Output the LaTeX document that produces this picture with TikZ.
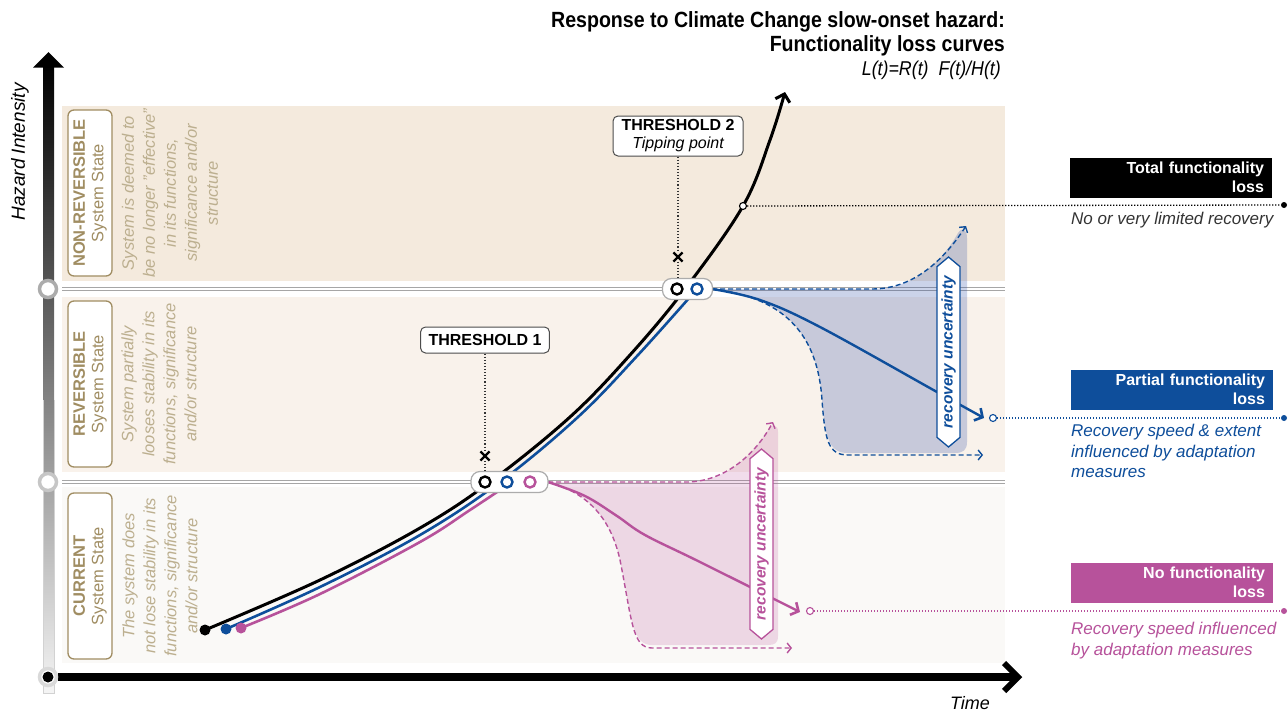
\documentclass[tikz,border=0pt]{standalone}
\usepackage{fontspec}
\setmainfont{Liberation Sans}
\setsansfont{Liberation Sans}
\newfontfamily\titlefont[FakeStretch=0.89]{Liberation Sans}
\usetikzlibrary{arrows.meta,shapes.symbols,shapes.misc}
\definecolor{bluec}{RGB}{14,78,155}
\definecolor{pinkc}{RGB}{183,82,155}
\definecolor{tanc}{RGB}{160,141,98}
\definecolor{tanl}{RGB}{188,175,143}
\definecolor{bandA}{RGB}{244,234,221}
\definecolor{bandB}{RGB}{249,242,235}
\definecolor{bandC}{RGB}{250,249,247}
\definecolor{bluefillc}{RGB}{40,72,165}
\definecolor{pinkfillc}{RGB}{185,80,155}
\newcommand\fsz[2]{\fontsize{#1}{#2}\selectfont}
\tikzset{
 dbl/.style={draw=gray!70, line width=0.9pt, double=white, double distance=2.2pt},
 statebox/.style={draw=tanc, line width=1.3pt, rounded corners=6pt, fill=white, text=tanc, align=center, rotate=90, minimum width=166pt, minimum height=44pt, inner sep=2pt, font=\fsz{16.5}{18.5}},
 desc/.style={rotate=90, align=center, text=tanl, font=\itshape\fsz{16.5}{21}, inner sep=0pt},
 axring/.style={circle, fill=white, draw=gray!60, line width=3.5pt, minimum size=17pt, inner sep=0pt},
 pill/.style={draw=gray!65, fill=white, line width=1.2pt, rounded corners=9pt, minimum height=21pt, inner sep=0pt},
 ring/.style={circle, draw=#1, line width=2.4pt, minimum size=11pt, inner sep=0pt},
 sdot/.style={circle, fill=#1, minimum size=11pt, inner sep=0pt},
 enddot/.style={circle, fill=#1, minimum size=6pt, inner sep=0pt},
 smallc/.style={circle, draw=#1, fill=white, line width=1.1pt, minimum size=7pt, inner sep=0pt},
 tbox/.style={draw=gray!60!black, fill=white, line width=1pt, rounded corners=5pt, align=center, font=\bfseries\fsz{16}{19}, inner xsep=8pt, inner ysep=3pt},
 xmark/.style={cross out, draw=black, line width=2.2pt, minimum size=7pt, inner sep=0pt},
 thr/.style={dotted, line width=1.1pt, black!80},
 conn/.style={line width=1.3pt, dash pattern=on 1.2pt off 1.8pt, draw=#1},
 rbox/.style={fill=#1, text=white, text width=186pt, align=right, minimum height=40pt, inner xsep=8pt, inner ysep=2pt, font=\bfseries\fsz{16}{19}},
 ubox/.style={shape=signal, signal to=east and west, signal pointer angle=100, rotate=90, fill=white, draw=#1, text=#1, line width=1.3pt, minimum width=190pt, minimum height=23pt, inner sep=1pt, font=\bfseries\itshape\fsz{15.5}{17}},
 dsh/.style={draw=#1, dashed, line width=1.4pt, dash pattern=on 5pt off 3pt, -{Straight Barb[length=4pt,width=10pt,line width=1.4pt]}},
 solidarr/.style={draw=#1, line width=2.4pt, -{Straight Barb[length=6pt,width=14pt,line width=2.6pt]}},
}
\begin{document}
\begin{tikzpicture}[x=1pt,y=-1pt]
\useasboundingbox (0,0) rectangle (1288,712);
\fill[white] (0,0) rectangle (1288,712);
% bands
\fill[bandA] (62,106) rectangle (1005,281);
\fill[bandB] (62,297) rectangle (1005,472);
\fill[bandC] (62,487) rectangle (1005,663);
\draw[dbl] (62,289) -- (1005,289);
\draw[dbl] (62,482) -- (1005,482);
% title
\node[anchor=east, inner sep=0pt, font=\titlefont\bfseries\fsz{22}{26}] (title1) at (1005,22) {Response to Climate Change slow-onset hazard:};
\node[anchor=east, inner sep=0pt, font=\titlefont\bfseries\fsz{22}{26}] (title2) at (1005,46) {Functionality loss curves};
\node[anchor=east, inner sep=0pt, font=\titlefont\itshape\fsz{20}{24}] (formula) at (1001,70) {L(t)=R(t)\ \ F(t)/H(t)};
% state labels
\node[statebox] (nr) at (90,193) {\textbf{NON-REVERSIBLE}\\System State};
\node[statebox] (rv) at (90,384) {\textbf{REVERSIBLE}\\System State};
\node[statebox] (cu) at (90,576) {\textbf{CURRENT}\\System State};
\node[desc] (nrd) at (170,193) {System is deemed to\\be no longer "effective"\\in its functions,\\significance and/or\\structure};
\node[desc] (rvd) at (159,384) {System partially\\looses stability in its\\functions, significance\\and/or structure};
\node[desc] (cud) at (160,576) {The system does\\not lose stability in its\\functions, significance\\and/or structure};
% recovery regions
\fill[bluefillc, opacity=0.24] (712,289) -- (872,289) .. controls (915,289) and (943,260) .. (958,233) .. controls (962,227) and (967,229) .. (967,238) -- (967,442) .. controls (967,450) and (963,453) .. (955,453) -- (848,453) .. controls (830,453) and (825,440) .. (822,400) .. controls (818,340) and (790,298) .. (712,289) -- cycle;
\fill[pinkfillc, opacity=0.2] (548,482) -- (688,482) .. controls (725,481) and (750,458) .. (768,430) .. controls (772,424) and (778,424) .. (778,432) -- (778,636) .. controls (778,643) and (775,645) .. (768,645) -- (652,645) .. controls (632,645) and (632,620) .. (620,560) .. controls (610,515) and (585,492) .. (548,482) -- cycle;
% dashed bounds
\draw[dsh=bluec] (712,289) -- (872,289) .. controls (915,289) and (945,258) .. (966,226);
\draw[dsh=bluec] (712,289) .. controls (790,298) and (818,340) .. (822,400) .. controls (825,440) and (828,455) .. (848,455) -- (983,455);
\draw[dsh=pinkc] (548,482) -- (688,482) .. controls (725,481) and (755,455) .. (773,422);
\draw[dsh=pinkc] (548,482) .. controls (585,492) and (610,515) .. (620,560) .. controls (632,620) and (632,648) .. (652,648) -- (792,648);
% main curves
\draw[line width=3pt, black, -{Straight Barb[length=7pt,width=15pt,line width=3pt]}] plot[smooth, tension=0.6] coordinates {(205,630) (320,580) (420,528) (490,482) (570,417) (630,355) (685,289) (743,206) (770,140) (785,92)};
\draw[line width=2.6pt, bluec] plot[smooth, tension=0.6] coordinates {(226,629) (320,587) (420,535) (500,482) (578,417) (638,355) (697,289)};
\draw[line width=2.6pt, pinkc] plot[smooth, tension=0.6] coordinates {(241,628) (320,594) (420,542) (470,510) (512,482)};
\node[sdot=black] (s1) at (205,630) {};
\node[sdot=bluec] (s2) at (226,629) {};
\node[sdot=pinkc] (s3) at (241,628) {};
% recovery solid lines
\draw[solidarr=bluec] plot[smooth, tension=0.6] coordinates {(712,289) (760,300) (820,327) (937,392) (984,418)};
\draw[solidarr=pinkc] plot[smooth, tension=0.6] coordinates {(548,482) (585,496) (617,516) (645,535) (700,562) (800,612)};
% uncertainty boxes
\node[ubox=bluec] (ub) at (948.5,352) {recovery uncertainty};
\node[ubox=pinkc] (up) at (761.5,544) {recovery uncertainty};
% pills
\node[pill, minimum width=77pt] (p1) at (509.5,482) {};
\node[pill, minimum width=50pt] (p2) at (687.5,289) {};
\node[ring=black] (r1a) at (485,482) {};
\node[ring=bluec] (r1b) at (507,482) {};
\node[ring=pinkc] (r1c) at (530,482) {};
\node[ring=black] (r2a) at (677,289) {};
\node[ring=bluec] (r2b) at (697,289) {};
% thresholds
\node[tbox, minimum height=26pt] (t1) at (485,340) {THRESHOLD 1};
\node[tbox, minimum width=130pt, minimum height=40pt] (t2) at (678,136) {THRESHOLD 2\\[-1pt]{\mdseries\itshape Tipping point}};
\node[xmark] (x1) at (485,456) {};
\node[xmark] (x2) at (678,257) {};
\draw[thr] (t1.south) -- (x1);
\draw[thr] (x1) -- (x1 |- p1.north);
\draw[thr] (t2.south) -- (x2);
\draw[thr] (x2) -- (x2 |- p2.north);
% connectors to right
\node[smallc=black] (c1) at (743,206) {};
\node[smallc=bluec] (c2) at (993,418) {};
\node[smallc=pinkc] (c3) at (810,611) {};
\node[enddot=black] (e1) at (1284,205) {};
\node[enddot=bluec] (e2) at (1284,418) {};
\node[enddot=pinkc] (e3) at (1284,611) {};
\draw[conn=black] (c1) -- (e1);
\draw[conn=bluec] (c2) -- (e2);
\draw[conn=pinkc] (c3) -- (e3);
% right labels
\node[rbox=black] (b1) at (1171,177.5) {Total functionality\\loss};
\node[rbox=bluec] (b2) at (1172,389.5) {Partial functionality\\loss};
\node[rbox=pinkc] (b3) at (1172,582.5) {No functionality\\loss};
\node[anchor=west, inner sep=0pt, text=black!80, font=\itshape\fsz{17}{20.5}] (l1) at (1071,220) {No or very limited recovery};
\node[anchor=north west, align=left, inner sep=0pt, text=bluec, font=\itshape\fsz{17}{20.5}] (l2) at (1071,424) {Recovery speed \& extent\\influenced by adaptation\\measures};
\node[anchor=north west, align=left, inner sep=0pt, text=pinkc, font=\itshape\fsz{17}{20.5}] (l3) at (1071,622) {Recovery speed influenced\\by adaptation measures};
% axes
\shade[top color=black, bottom color=gray!8] (43,64) rectangle (54,693);
\draw[gray!35, line width=0.6pt] (43,400) -- (43,693) -- (54,693) -- (54,400);
\fill[black] (48.5,52) -- (64,67.5) -- (33,67.5) -- cycle;
\draw[black, line width=7.5pt] (58,677) -- (1014,677);
\draw[black, line width=6pt, miter limit=10] (1004,663) -- (1018,677) -- (1004,691);
\node[axring, draw=gray!65] (a1) at (48,289) {};
\node[axring, draw=gray!45] (a2) at (48,482) {};
\node[axring, draw=gray!30] (a0) at (48,677) {};
\node[sdot=black] (a0d) at (48,677) {};
\node[rotate=90, font=\itshape\fsz{19}{22}, inner sep=0pt] (hz) at (20,152) {Hazard Intensity};
\node[font=\itshape\fsz{18}{22}, inner sep=0pt] (tm) at (970,703) {Time};
\end{tikzpicture}
\end{document}
